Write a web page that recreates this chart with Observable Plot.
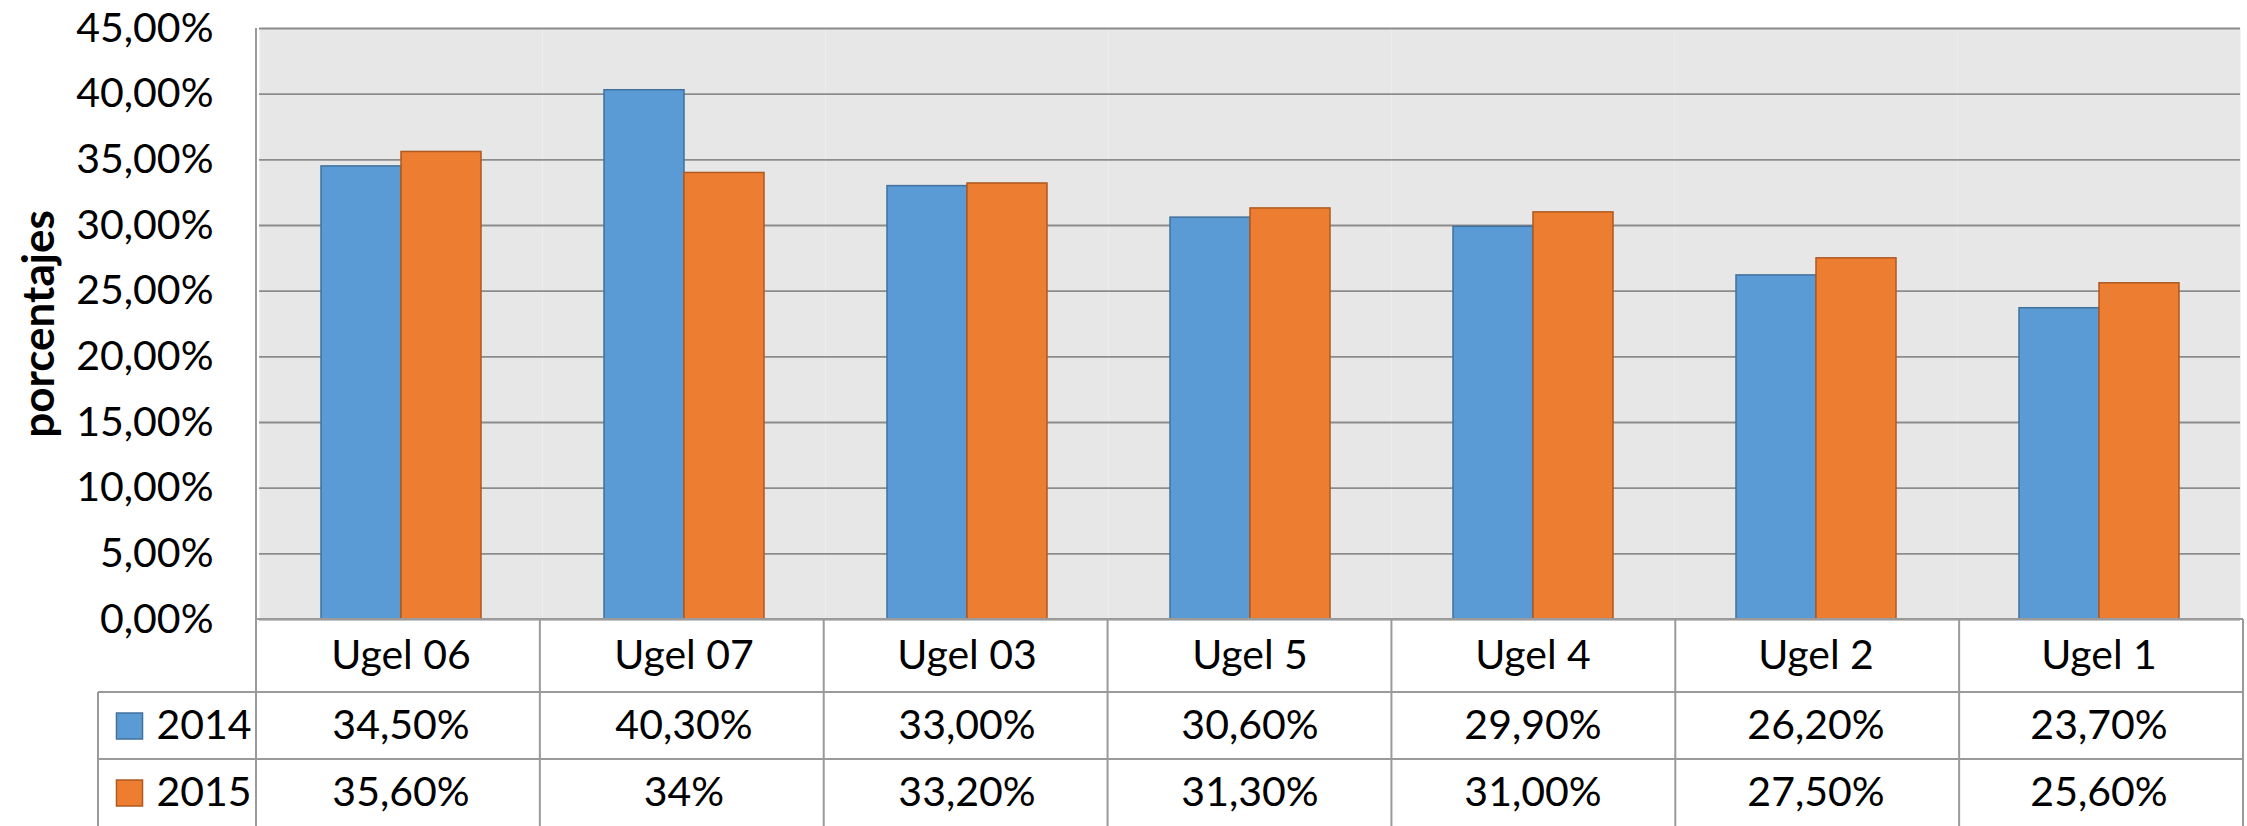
<!DOCTYPE html>
<html>
<head>
<meta charset="utf-8">
<script src="https://cdn.jsdelivr.net/npm/d3@7"></script>
<script src="https://cdn.jsdelivr.net/npm/@observablehq/plot@0.6"></script>
<style>
  html, body { margin: 0; padding: 0; background: #ffffff; }
  #chart { width: 2247px; height: 826px; overflow: hidden; }
</style>
</head>
<body>
<div id="chart"></div>
<script>
const categories = ["Ugel 06", "Ugel 07", "Ugel 03", "Ugel 5", "Ugel 4", "Ugel 2", "Ugel 1"];
const years = ["2014", "2015"];
const values2014 = [34.5, 40.3, 33.0, 30.6, 29.9, 26.2, 23.7];
const values2015 = [35.6, 34.0, 33.2, 31.3, 31.0, 27.5, 25.6];
const labels2014 = ["34,50%", "40,30%", "33,00%", "30,60%", "29,90%", "26,20%", "23,70%"];
const labels2015 = ["35,60%", "34%", "33,20%", "31,30%", "31,00%", "27,50%", "25,60%"];
const yTicks = [0, 5, 10, 15, 20, 25, 30, 35, 40, 45];
const yTickLabels = ["0,00%", "5,00%", "10,00%", "15,00%", "20,00%", "25,00%", "30,00%", "35,00%", "40,00%", "45,00%"];
const yLabel = "porcentajes";
const fills = ["#5B9BD5", "#ED7D31"];
const strokes = ["#41719C", "#AE5A21"];

const rows2014 = categories.map((c, i) => ({cat: c, year: years[0], value: values2014[i], label: labels2014[i]}));
const rows2015 = categories.map((c, i) => ({cat: c, year: years[1], value: values2015[i], label: labels2015[i]}));

const FONT = "Lato, 'Open Sans', sans-serif";
const FS = 41;
const first = () => categories[0];

const plot = Plot.plot({
  width: 2247,
  height: 826,
  marginTop: 28,
  marginBottom: 207,
  marginLeft: 256,
  marginRight: 4,
  style: {fontFamily: FONT, fontSize: FS + "px", color: "#000", background: "#fff", overflow: "visible"},
  fx: {domain: categories, padding: 0, axis: null, label: null},
  x: {domain: years, paddingInner: 0, paddingOuter: 0.753, axis: null, label: null},
  y: {domain: [0, 45], axis: null, label: null},
  marks: [
    Plot.frame({fill: "#E7E7E7", stroke: "none"}),
    Plot.gridY(yTicks, {stroke: "#8C8C8C", strokeOpacity: 1, strokeWidth: 1.8}),
    Plot.barY(rows2014, {fx: "cat", x: "year", y: "value", fill: fills[0], stroke: strokes[0], strokeWidth: 1.5}),
    Plot.barY(rows2015, {fx: "cat", x: "year", y: "value", fill: fills[1], stroke: strokes[1], strokeWidth: 1.5}),
    Plot.axisY(yTicks, {
      tickSize: 0, tickPadding: 46, label: null, fontSize: FS, fill: "#000",
      tickFormat: d => yTickLabels[yTicks.indexOf(d)]
    }),
    Plot.text([yLabel], {fx: first, text: d => d, frameAnchor: "left", textAnchor: "middle", lineAnchor: "middle",
      rotate: -90, dx: -220, fontWeight: "bold", fontSize: 44, fill: "#000"}),
    // table: categories row
    Plot.text(categories, {fx: d => d, text: d => d, frameAnchor: "bottom", dy: 36.5, lineAnchor: "middle", fontSize: FS, fill: "#000"}),
    Plot.text(rows2014, {fx: "cat", text: "label", frameAnchor: "bottom", dy: 106.5, lineAnchor: "middle", fontSize: FS, fill: "#000"}),
    Plot.text(rows2015, {fx: "cat", text: "label", frameAnchor: "bottom", dy: 173.5, lineAnchor: "middle", fontSize: FS, fill: "#000"}),
    // legend column
    Plot.dot([years[0]], {fx: first, frameAnchor: "bottom-left", dx: -130, dy: 106.5, symbol: "square", r: 14.7, fill: fills[0], stroke: strokes[0], strokeWidth: 1.5}),
    Plot.dot([years[1]], {fx: first, frameAnchor: "bottom-left", dx: -130, dy: 173.5, symbol: "square", r: 14.7, fill: fills[1], stroke: strokes[1], strokeWidth: 1.5}),
    Plot.text([years[0]], {fx: first, text: d => d, frameAnchor: "bottom-left", dx: -103, dy: 106.5, textAnchor: "start", lineAnchor: "middle", fontSize: FS, fill: "#000"}),
    Plot.text([years[1]], {fx: first, text: d => d, frameAnchor: "bottom-left", dx: -103, dy: 173.5, textAnchor: "start", lineAnchor: "middle", fontSize: FS, fill: "#000"})
  ]
});

document.getElementById("chart").appendChild(plot);

// Table grid lines derived from the plot's own scales
const svg = d3.select(plot.tagName.toLowerCase() === "svg" ? plot : plot.querySelector("svg"));
const fxs = plot.scale("fx");
const ys = plot.scale("y");
const x0 = fxs.range[0], x1 = fxs.range[1];
const step = (x1 - x0) / fxs.domain.length;
const yBase = ys.range[0];
const yTop = ys.range[1];
const H = 826;
const row1 = yBase + 73, row2 = yBase + 140;
const legendLeft = x0 - 158;
const g = svg.append("g").attr("stroke", "#9A9A9A").attr("stroke-width", 2).attr("fill", "none");
// left axis line
g.append("line").attr("x1", x0).attr("x2", x0).attr("y1", yTop).attr("y2", H);
// baseline
g.append("line").attr("x1", x0).attr("x2", x1).attr("y1", yBase).attr("y2", yBase);
// vertical separators in table
for (let k = 1; k <= fxs.domain.length; k++) {
  const xx = x0 + k * step;
  g.append("line").attr("x1", xx).attr("x2", xx).attr("y1", yBase).attr("y2", H);
}
// horizontal row separators
[row1, row2].forEach(yy => g.append("line").attr("x1", legendLeft).attr("x2", x1).attr("y1", yy).attr("y2", yy));
// legend column left border
g.append("line").attr("x1", legendLeft).attr("x2", legendLeft).attr("y1", row1).attr("y2", H);
</script>
</body>
</html>
